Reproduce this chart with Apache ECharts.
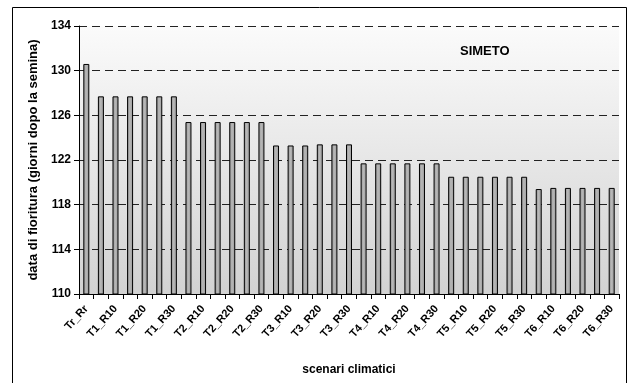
<!DOCTYPE html>
<html><head><meta charset="utf-8">
<script src="https://cdn.jsdelivr.net/npm/echarts@6/dist/echarts.min.js"></script>
<style>html,body{margin:0;padding:0;background:#fff}#c{width:632px;height:383px}</style>
</head><body><div id="c"></div>
<script>
var categories = ['Tr_Rr',
 'T1_R5','T1_R10','T1_R15','T1_R20','T1_R25','T1_R30',
 'T2_R5','T2_R10','T2_R15','T2_R20','T2_R25','T2_R30',
 'T3_R5','T3_R10','T3_R15','T3_R20','T3_R25','T3_R30',
 'T4_R5','T4_R10','T4_R15','T4_R20','T4_R25','T4_R30',
 'T5_R5','T5_R10','T5_R15','T5_R20','T5_R25','T5_R30',
 'T6_R5','T6_R10','T6_R15','T6_R20','T6_R25','T6_R30'];
var values = [130.6,
 127.7,127.7,127.7,127.7,127.7,127.7,
 125.4,125.4,125.4,125.4,125.4,125.4,
 123.3,123.3,123.3,123.4,123.4,123.4,
 121.7,121.7,121.7,121.7,121.7,121.7,
 120.5,120.5,120.5,120.5,120.5,120.5,
 119.4,119.5,119.5,119.5,119.5,119.5];
var yMin = 110, yMax = 134, yStep = 4;
var titleText = 'SIMETO';
var yName = 'data di fioritura (giorni dopo la semina)';
var xName = 'scenari climatici';

var font = 'Liberation Sans, Arial, sans-serif';
var chart = echarts.init(document.getElementById('c'), null, {renderer:'canvas'});
chart.setOption({
  animation:false,
  backgroundColor:'#fff',
  title:{text:titleText, left:455, top:40, textStyle:{fontFamily:font,fontSize:13,fontWeight:'bold',color:'#000'}},
  graphic:[{type:'rect', shape:{x:12.5,y:7.5,width:614,height:390}, style:{fill:'none',stroke:'#000',lineWidth:1}, z:-10}],
  grid:{left:79, top:26, width:540, height:268, show:true, borderWidth:0,
    backgroundColor:{type:'linear',x:0,y:0,x2:0,y2:1,colorStops:[{offset:0,color:'#fbfbfb'},{offset:1,color:'#d2d2d2'}]}},
  xAxis:{type:'category', data:categories, boundaryGap:true,
    name:xName, nameLocation:'middle', nameGap:70,
    nameTextStyle:{fontFamily:font,fontSize:12,fontWeight:'bold',color:'#000'},
    axisLine:{lineStyle:{color:'#000',width:1}},
    axisTick:{show:true, alignWithLabel:false, interval:0, length:5, lineStyle:{color:'#000'}},
    axisLabel:{interval:1, rotate:48, margin:13, fontFamily:font, fontSize:11, fontWeight:'bold', color:'#000'}},
  yAxis:{type:'value', min:yMin, max:yMax, interval:yStep,
    name:yName, nameLocation:'middle', nameGap:39,
    nameTextStyle:{fontFamily:font,fontSize:13,fontWeight:'bold',color:'#000'},
    axisLine:{show:true, lineStyle:{color:'#000',width:1}},
    axisTick:{show:true, length:5, lineStyle:{color:'#000'}},
    axisLabel:{margin:8, fontFamily:font, fontSize:12, fontWeight:'bold', color:'#000'},
    splitLine:{show:true, lineStyle:{color:'#222', type:[8,5], width:1}}},
  series:[{type:'bar', data:values, barWidth:6,
    itemStyle:{borderColor:'#000', borderWidth:1,
      color:{type:'linear',x:0,y:0,x2:1,y2:0,colorStops:[{offset:0,color:'#8a8a8a'},{offset:0.45,color:'#b8b8b8'},{offset:1,color:'#999'}]}}}]
});
</script></body></html>
